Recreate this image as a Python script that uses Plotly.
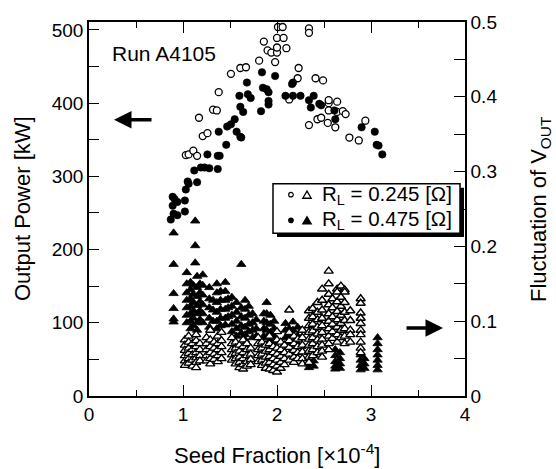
import plotly.graph_objects as go

# ---------------- data ----------------
# Output power, R_L = 0.245 ohm (open circles)
pw_open_x = [1.03, 1.06, 1.11, 1.15, 1.17, 1.21, 1.26, 1.32, 1.36, 1.38, 1.51, 1.61, 1.67, 1.81,
             1.86, 1.90, 1.94, 1.98, 2.00, 2.00, 2.00, 2.07, 2.10, 2.01, 2.06, 2.34, 2.34, 2.23,
             2.22, 2.13, 2.41, 2.49, 2.55, 2.55, 2.64, 2.34, 2.43, 2.47, 2.54, 2.62, 2.55, 2.64,
             2.70, 2.73, 2.77, 2.87, 2.94]
pw_open_p = [329, 330, 335, 328, 380, 355, 359, 391, 390, 415, 440, 448, 449, 458,
             484, 472, 469, 456, 469, 476, 489, 489, 475, 504, 504, 502, 496, 448,
             434, 405, 434, 431, 400, 404, 402, 370, 378, 380, 373, 367, 390, 388,
             389, 385, 353, 349, 376]

# Output power, R_L = 0.475 ohm (filled circles)
pw_fill_x = [0.87, 0.90, 0.94, 1.02, 0.89, 0.91, 0.94, 0.89, 1.02, 1.03, 1.05, 1.06, 1.15, 1.19,
             1.12, 1.23, 1.28, 1.37, 1.26, 1.37, 1.39, 1.46, 1.57, 1.61, 1.62, 1.38, 1.51, 1.47,
             1.55, 1.61, 1.64, 1.83, 1.60, 1.69, 1.72, 1.68, 1.84, 1.98, 1.85, 1.89, 1.91, 1.91,
             1.91, 2.16, 2.17, 2.09, 2.17, 2.25, 2.34, 2.39, 2.45, 2.47, 2.36, 2.61, 2.62, 2.90,
             3.04, 3.06, 3.08, 3.12]
pw_fill_p = [241, 249, 247, 252, 272, 269, 265, 260, 267, 282, 293, 290, 292, 312,
             308, 312, 311, 310, 330, 328, 328, 343, 361, 354, 353, 361, 371, 368,
             378, 395, 388, 389, 410, 412, 407, 428, 442, 437, 421, 419, 415, 403,
             398, 426, 428, 410, 410, 410, 404, 410, 399, 397, 394, 390, 378, 367,
             361, 343, 342, 330]

# Fluctuation of V_OUT, R_L = 0.475 ohm (filled triangles)
fl_fill_x = [0.90, 0.90, 0.90, 0.90, 0.90, 0.90,
             1.13, 1.13, 1.13, 1.62,
             1.04, 1.04, 1.04, 1.04, 1.04, 1.04, 1.04,
             1.08, 1.08, 1.08, 1.08, 1.08, 1.08, 1.08,
             1.11, 1.11, 1.11, 1.11, 1.11, 1.11,
             1.15, 1.15, 1.15, 1.15, 1.15, 1.15, 1.15,
             1.18, 1.18, 1.18, 1.18, 1.18,
             1.21, 1.21, 1.21, 1.21, 1.21, 1.21,
             1.28, 1.28, 1.28, 1.28, 1.28,
             1.32, 1.32, 1.32,
             1.36, 1.36, 1.36, 1.36, 1.36, 1.36,
             1.40, 1.40, 1.40, 1.40, 1.40,
             1.45, 1.45, 1.45, 1.45, 1.45, 1.45,
             1.48, 1.48, 1.48,
             1.52, 1.52, 1.52, 1.52, 1.52,
             1.57, 1.57, 1.57, 1.57, 1.57,
             1.62, 1.62, 1.62, 1.62,
             1.66, 1.66, 1.66, 1.66, 1.66, 1.66,
             1.70, 1.70, 1.70, 1.70,
             1.74, 1.74, 1.74, 1.74,
             1.78, 1.78, 1.78,
             1.86, 1.86, 1.86, 1.86,
             1.89, 1.89, 1.89, 1.89, 1.89, 1.89,
             1.93, 1.93, 1.93, 1.93,
             1.97, 1.97, 1.97, 1.97,
             2.09, 2.09, 2.09, 2.09,
             2.13, 2.13, 2.13,
             2.17, 2.17, 2.17, 2.17, 2.17,
             2.22, 2.22, 2.22,
             2.26, 2.26, 2.26,
             2.34, 2.34, 2.34, 2.34,
             2.39, 2.39, 2.39,
             2.62, 2.62, 2.62, 2.62, 2.62,
             2.67, 2.67, 2.67, 2.67,
             2.89, 2.89, 2.89, 2.89,
             2.93, 2.93, 2.93,
             3.07, 3.07, 3.07, 3.07, 3.07, 3.07, 3.07]
fl_fill_f = [0.218, 0.176, 0.137, 0.117, 0.103, 0.099,
             0.234, 0.201, 0.178, 0.176,
             0.165, 0.150, 0.138, 0.128, 0.118, 0.108, 0.098,
             0.152, 0.142, 0.130, 0.120, 0.110, 0.100, 0.090,
             0.148, 0.136, 0.125, 0.114, 0.104, 0.094,
             0.160, 0.145, 0.133, 0.121, 0.110, 0.098, 0.088,
             0.150, 0.138, 0.126, 0.114, 0.102,
             0.162, 0.148, 0.135, 0.122, 0.110, 0.098,
             0.145, 0.130, 0.118, 0.104, 0.092,
             0.128, 0.115, 0.100,
             0.150, 0.138, 0.125, 0.112, 0.100, 0.090,
             0.140, 0.128, 0.116, 0.104, 0.094,
             0.152, 0.140, 0.128, 0.116, 0.104, 0.095,
             0.130, 0.118, 0.106,
             0.132, 0.120, 0.108, 0.096, 0.086,
             0.125, 0.112, 0.100, 0.090, 0.080,
             0.118, 0.106, 0.094, 0.084,
             0.128, 0.116, 0.104, 0.092, 0.082, 0.075,
             0.120, 0.108, 0.096, 0.086,
             0.110, 0.098, 0.088, 0.078,
             0.102, 0.090, 0.080,
             0.110, 0.100, 0.090, 0.080,
             0.125, 0.110, 0.098, 0.088, 0.078, 0.068,
             0.108, 0.096, 0.085, 0.075,
             0.100, 0.090, 0.080, 0.070,
             0.097, 0.088, 0.078, 0.068,
             0.090, 0.080, 0.070,
             0.099, 0.088, 0.078, 0.068, 0.060,
             0.092, 0.080, 0.070,
             0.088, 0.078, 0.066,
             0.058, 0.050, 0.043, 0.038,
             0.055, 0.047, 0.040,
             0.062, 0.054, 0.046, 0.040, 0.036,
             0.058, 0.050, 0.043, 0.037,
             0.055, 0.048, 0.041, 0.035,
             0.050, 0.043, 0.037,
             0.078, 0.070, 0.062, 0.055, 0.048, 0.041, 0.035]

# Fluctuation of V_OUT, R_L = 0.245 ohm (open triangles)
fl_open_x = [1.02, 1.02, 1.02, 1.02, 1.02, 1.02,
             1.06, 1.06, 1.06, 1.06, 1.06, 1.06,
             1.10, 1.10, 1.10, 1.10, 1.10,
             1.14, 1.14, 1.14, 1.14, 1.14, 1.14, 1.14,
             1.18, 1.18, 1.18, 1.18,
             1.25, 1.25, 1.25, 1.25, 1.25,
             1.29, 1.29, 1.29, 1.29, 1.29, 1.29,
             1.33, 1.33, 1.33, 1.33,
             1.37, 1.37, 1.37, 1.37, 1.37,
             1.41, 1.41, 1.41, 1.41, 1.41,
             1.52, 1.52, 1.52, 1.52, 1.52,
             1.56, 1.56, 1.56, 1.56, 1.56,
             1.60, 1.60, 1.60, 1.60, 1.60,
             1.64, 1.64, 1.64, 1.64, 1.64, 1.64,
             1.68, 1.68, 1.68, 1.68, 1.68,
             1.72, 1.72, 1.72, 1.72,
             1.80, 1.80, 1.80, 1.80, 1.80,
             1.84, 1.84, 1.84, 1.84, 1.84,
             1.88, 1.88, 1.88, 1.88, 1.88,
             1.92, 1.92, 1.92, 1.92, 1.92, 1.92,
             1.96, 1.96, 1.96, 1.96, 1.96,
             2.00, 2.00, 2.00, 2.00, 2.00, 2.00, 2.00,
             2.04, 2.04, 2.04, 2.04, 2.04,
             2.08, 2.08, 2.08, 2.08,
             2.13, 2.13, 2.13, 2.13, 2.13, 2.13,
             2.18, 2.18, 2.18, 2.18, 2.18,
             2.22, 2.22, 2.22, 2.22,
             2.27, 2.27, 2.27, 2.27, 2.27, 2.27,
             2.34, 2.34, 2.34, 2.34, 2.34, 2.34, 2.34, 2.34, 2.34,
             2.38, 2.38, 2.38, 2.38, 2.38, 2.38, 2.38, 2.38,
             2.43, 2.43, 2.43, 2.43, 2.43, 2.43, 2.43, 2.43,
             2.48, 2.48, 2.48, 2.48, 2.48, 2.48, 2.48, 2.48, 2.48, 2.48,
             2.55, 2.55, 2.55, 2.55, 2.55, 2.55, 2.55, 2.55, 2.55, 2.55,
             2.59, 2.59, 2.59, 2.59, 2.59, 2.59,
             2.64, 2.64, 2.64, 2.64, 2.64, 2.64, 2.64, 2.64,
             2.68, 2.68, 2.68, 2.68, 2.68, 2.68, 2.68,
             2.72, 2.72, 2.72, 2.72, 2.72, 2.72, 2.72, 2.72,
             2.78, 2.78, 2.78, 2.78, 2.78,
             2.89, 2.89, 2.89, 2.89, 2.89, 2.89, 2.89, 2.89, 2.89, 2.89]
fl_open_f = [0.075, 0.068, 0.061, 0.054, 0.047, 0.041,
             0.080, 0.072, 0.064, 0.057, 0.050, 0.044,
             0.070, 0.062, 0.055, 0.048, 0.040,
             0.082, 0.074, 0.066, 0.058, 0.051, 0.045, 0.038,
             0.070, 0.062, 0.054, 0.047,
             0.078, 0.070, 0.062, 0.054, 0.047,
             0.088, 0.075, 0.066, 0.058, 0.050, 0.043,
             0.072, 0.064, 0.056, 0.049,
             0.080, 0.070, 0.062, 0.054, 0.046,
             0.085, 0.074, 0.066, 0.058, 0.050,
             0.078, 0.070, 0.062, 0.055, 0.048,
             0.072, 0.064, 0.057, 0.050, 0.043,
             0.068, 0.060, 0.052, 0.045, 0.038,
             0.075, 0.066, 0.058, 0.050, 0.042, 0.036,
             0.070, 0.062, 0.054, 0.046, 0.040,
             0.064, 0.056, 0.049, 0.042,
             0.078, 0.070, 0.062, 0.054, 0.046,
             0.072, 0.064, 0.056, 0.048, 0.041,
             0.068, 0.060, 0.052, 0.044, 0.037,
             0.080, 0.070, 0.062, 0.053, 0.045, 0.036,
             0.066, 0.058, 0.050, 0.042, 0.034,
             0.086, 0.075, 0.064, 0.056, 0.048, 0.040, 0.032,
             0.072, 0.062, 0.053, 0.045, 0.037,
             0.068, 0.058, 0.050, 0.042,
             0.115, 0.085, 0.074, 0.065, 0.056, 0.048,
             0.080, 0.070, 0.061, 0.052, 0.045,
             0.076, 0.066, 0.058, 0.050,
             0.088, 0.078, 0.068, 0.059, 0.050, 0.043,
             0.114, 0.104, 0.094, 0.085, 0.076, 0.068, 0.060, 0.052, 0.045,
             0.117, 0.106, 0.096, 0.087, 0.078, 0.070, 0.062, 0.054,
             0.125, 0.112, 0.102, 0.092, 0.083, 0.075, 0.066, 0.058,
             0.143, 0.128, 0.115, 0.104, 0.094, 0.085, 0.076, 0.068, 0.060, 0.052,
             0.167, 0.150, 0.136, 0.122, 0.110, 0.100, 0.090, 0.080, 0.070, 0.062,
             0.130, 0.118, 0.106, 0.096, 0.086, 0.077,
             0.143, 0.139, 0.126, 0.113, 0.102, 0.092, 0.082, 0.072,
             0.147, 0.132, 0.120, 0.108, 0.097, 0.088, 0.078,
             0.142, 0.139, 0.125, 0.112, 0.101, 0.090, 0.080, 0.070,
             0.114, 0.101, 0.088, 0.082, 0.072,
             0.130, 0.124, 0.111, 0.104, 0.097, 0.088, 0.082, 0.072, 0.064, 0.058]

x_ticks = [0, 1, 2, 3, 4]
power_ticks = [0, 100, 200, 300, 400, 500]
fluct_ticks = [0, 0.1, 0.2, 0.3, 0.4, 0.5]
legend_labels = ["R<sub>L</sub> = 0.245 [Ω]", "R<sub>L</sub> = 0.475 [Ω]"]

# ---------------- figure ----------------
FONT = "Liberation Sans, Arial, sans-serif"
L, R, T, B = 89, 91, 17, 73
W, H = 556, 469
PW, PH = W - L - R, H - T - B


def px(xp):
    return (xp - L) / PW


def py(yp):
    return (H - B - yp) / PH


fig = go.Figure()

fig.add_trace(go.Scatter(x=fl_fill_x, y=fl_fill_f, mode="markers", yaxis="y2",
                         marker=dict(symbol="triangle-up", size=8.2, color="black",
                                     line=dict(color="black", width=0.8)),
                         showlegend=False, hoverinfo="skip"))
fig.add_trace(go.Scatter(x=fl_open_x, y=fl_open_f, mode="markers", yaxis="y2",
                         marker=dict(symbol="triangle-up", size=8, color="white",
                                     line=dict(color="black", width=1.4)),
                         showlegend=False, hoverinfo="skip"))
fig.add_trace(go.Scatter(x=pw_open_x, y=pw_open_p, mode="markers",
                         marker=dict(symbol="circle", size=7, color="white",
                                     line=dict(color="black", width=1.3)),
                         showlegend=False, hoverinfo="skip"))
fig.add_trace(go.Scatter(x=pw_fill_x, y=pw_fill_p, mode="markers",
                         marker=dict(symbol="circle", size=7.5, color="black",
                                     line=dict(color="black", width=0.5)),
                         showlegend=False, hoverinfo="skip"))

tickfont = dict(family=FONT, size=19, color="black")

fig.update_layout(
    width=W, height=H,
    margin=dict(l=L, r=R, t=T, b=B, pad=0),
    paper_bgcolor="white", plot_bgcolor="white",
    showlegend=False,
    font=dict(family=FONT, color="black"),
    xaxis=dict(range=[0, 4], tickvals=x_ticks, ticks="inside", ticklen=11, tickwidth=1.2,
               tickcolor="black", showline=True, linecolor="black", linewidth=1.5,
               mirror="ticks", showgrid=False, zeroline=False, tickfont=tickfont,
               minor=dict(dtick=0.5, tick0=0, ticks="inside", ticklen=6, tickwidth=1.2,
                          tickcolor="black", showgrid=False)),
    yaxis=dict(range=[0, 510.8], tickvals=power_ticks, ticks="inside", ticklen=10, tickwidth=1.2,
               tickcolor="black", showline=True, linecolor="black", linewidth=1.5,
               showgrid=False, zeroline=False, tickfont=tickfont,
               minor=dict(dtick=50, tick0=0, ticks="inside", ticklen=10, tickwidth=1.2,
                          tickcolor="black", showgrid=False)),
    yaxis2=dict(range=[0, 0.5], tickvals=fluct_ticks, overlaying="y", side="right",
                ticks="inside", ticklen=11, tickwidth=1.2, tickcolor="black",
                showline=True, linecolor="black", linewidth=1.5,
                showgrid=False, zeroline=False, tickfont=tickfont,
                minor=dict(dtick=0.05, tick0=0, ticks="inside", ticklen=11, tickwidth=1.2,
                           tickcolor="black", showgrid=False)),
)

ann = []
titlefont = dict(family=FONT, size=22, color="black")
ann.append(dict(text="Output Power [kW]", x=px(22), y=0.5, xref="paper", yref="paper",
                textangle=-90, showarrow=False, font=titlefont, xanchor="center", yanchor="middle"))
ann.append(dict(text="Fluctuation of V<sub>OUT</sub>", x=px(540), y=0.5, xref="paper", yref="paper",
                textangle=-90, showarrow=False, font=titlefont, xanchor="center", yanchor="middle"))
ann.append(dict(text="Seed Fraction [×10<sup>-4</sup>]", x=0.5, y=py(455), xref="paper", yref="paper",
                showarrow=False, font=titlefont, xanchor="center", yanchor="middle"))
ann.append(dict(text="Run A4105", x=px(110), y=py(49), xref="paper", yref="paper",
                showarrow=False, font=dict(family=FONT, size=21, color="black"),
                xanchor="left", yanchor="middle"))
# arrows
ann.append(dict(text="", x=px(114), y=py(116), xref="paper", yref="paper",
                ax=39, ay=0, axref="pixel", ayref="pixel", showarrow=True,
                arrowhead=2, arrowsize=1.0, arrowwidth=3.5, arrowcolor="black", standoff=0))
ann.append(dict(text="", x=px(443), y=py(327), xref="paper", yref="paper",
                ax=-38, ay=0, axref="pixel", ayref="pixel", showarrow=True,
                arrowhead=2, arrowsize=1.0, arrowwidth=3.5, arrowcolor="black", standoff=0))

# legend box
shapes = []
shapes.append(dict(type="rect", xref="paper", yref="paper",
                   x0=px(277), x1=px(464), y0=py(235), y1=py(185),
                   fillcolor="black", line=dict(width=0)))
shapes.append(dict(type="rect", xref="paper", yref="paper",
                   x0=px(273), x1=px(460), y0=py(231), y1=py(181),
                   fillcolor="white", line=dict(color="black", width=1.5)))
rows = [192, 218]
for i, ry in enumerate(rows):
    filled = (i == 1)
    cx, cy = px(291), py(ry)
    rx, ryy = 2.3 / PW, 2.3 / PH
    shapes.append(dict(type="circle", xref="paper", yref="paper",
                       x0=cx - rx, x1=cx + rx, y0=cy - ryy, y1=cy + ryy,
                       fillcolor="black" if filled else "white",
                       line=dict(color="black", width=1.2)))
    tx, ty = px(307), py(ry)
    hw, hh = 4.2 / PW, 3.6 / PH
    shapes.append(dict(type="path", xref="paper", yref="paper",
                       path=f"M {tx-hw},{ty-hh} L {tx+hw},{ty-hh} L {tx},{ty+hh} Z",
                       fillcolor="black" if filled else "white",
                       line=dict(color="black", width=1.3)))
    ann.append(dict(text=legend_labels[i], x=px(320), y=py(ry), xref="paper", yref="paper",
                    showarrow=False, font=dict(family=FONT, size=20.5, color="black"),
                    xanchor="left", yanchor="middle"))

fig.update_layout(annotations=ann, shapes=shapes)
fig.write_html("out.html")
